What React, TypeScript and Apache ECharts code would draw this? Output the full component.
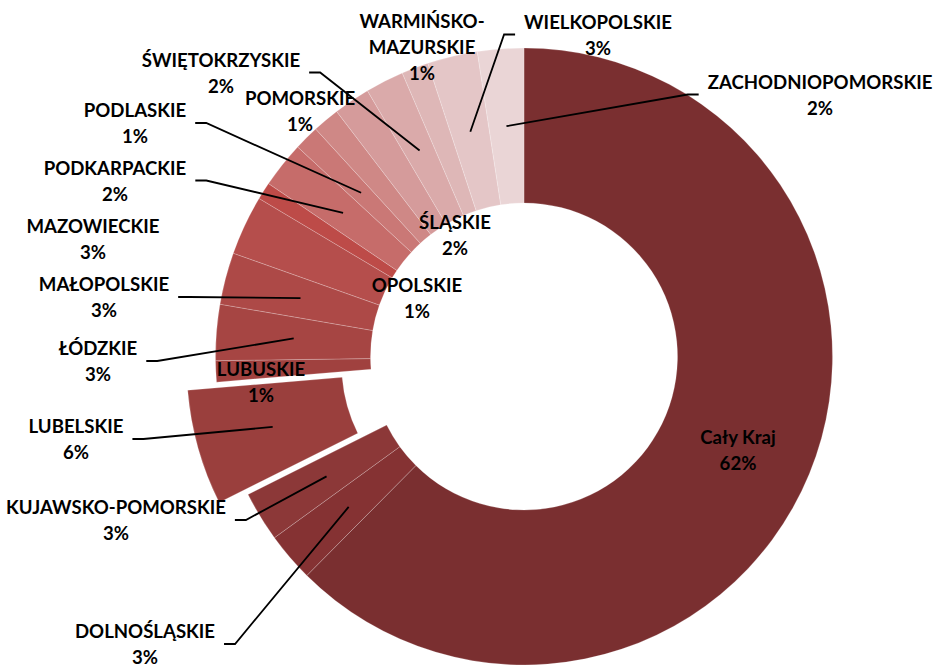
import React, { useEffect, useRef } from 'react';
import * as echarts from 'echarts';

// ---- data ----
const categories = [
  'Cały Kraj',
  'DOLNOŚLĄSKIE',
  'KUJAWSKO-POMORSKIE',
  'LUBELSKIE',
  'LUBUSKIE',
  'ŁÓDZKIE',
  'MAŁOPOLSKIE',
  'MAZOWIECKIE',
  'OPOLSKIE',
  'PODKARPACKIE',
  'PODLASKIE',
  'POMORSKIE',
  'ŚLĄSKIE',
  'ŚWIĘTOKRZYSKIE',
  'WARMIŃSKO-MAZURSKIE',
  'WIELKOPOLSKIE',
  'ZACHODNIOPOMORSKIE',
];
const shares = [61.9, 2.55, 2.6, 6.0, 1.1, 2.9, 2.7, 3.1, 0.9, 2.4, 1.3, 1.4, 1.9, 2.0, 1.4, 2.6, 2.4];
const explodedSlices = ['LUBELSKIE'];

// ---- styling ----
const sliceColors = [
  '#7A2F30', '#853233', '#8C3838', '#9A3F3D', '#A0413F', '#A64543', '#AD4947', '#B54E4C',
  '#BD4B48', '#C66C6A', '#CA7876', '#CF8886', '#D59B9B', '#DAAAAA', '#DEB7B7', '#E4C6C7', '#EAD5D6',
];
const CX = 524;
const CY = 356.5;
const R0 = 153.5;
const R1 = 308.5;
const OFFSET = 30;
const FONT = 'Lato';
const FONT_SIZE = 18.6;
const LINE_H = 26;

// label anchor (centre of text block) and which side the leader line sits on
type LP = { x: number; y: number; line?: 'toRight' | 'toLeft' };
const labelPlace: Record<string, LP> = {
  'Cały Kraj': { x: 738, y: 450 },
  'DOLNOŚLĄSKIE': { x: 145, y: 644, line: 'toRight' },
  'KUJAWSKO-POMORSKIE': { x: 116, y: 520, line: 'toRight' },
  'LUBELSKIE': { x: 76, y: 439, line: 'toRight' },
  'LUBUSKIE': { x: 261, y: 382 },
  'ŁÓDZKIE': { x: 98, y: 361, line: 'toRight' },
  'MAŁOPOLSKIE': { x: 104, y: 297, line: 'toRight' },
  'MAZOWIECKIE': { x: 93, y: 239 },
  'OPOLSKIE': { x: 417, y: 298 },
  'PODKARPACKIE': { x: 115, y: 180.5, line: 'toRight' },
  'PODLASKIE': { x: 135, y: 123, line: 'toRight' },
  'POMORSKIE': { x: 300, y: 111 },
  'ŚLĄSKIE': { x: 455, y: 235 },
  'ŚWIĘTOKRZYSKIE': { x: 221, y: 72.5, line: 'toRight' },
  'WARMIŃSKO-MAZURSKIE': { x: 422, y: 47 },
  'WIELKOPOLSKIE': { x: 598, y: 34.5, line: 'toLeft' },
  'ZACHODNIOPOMORSKIE': { x: 820, y: 94.5, line: 'toLeft' },
};

function measure(text: string): number {
  const c = document.createElement('canvas');
  const ctx = c.getContext('2d');
  if (!ctx) return text.length * FONT_SIZE * 0.6;
  ctx.font = `bold ${FONT_SIZE}px ${FONT}`;
  return Math.max(...text.split('\n').map((t) => ctx.measureText(t).width));
}

export default function App() {
  const ref = useRef<HTMLDivElement>(null);

  useEffect(() => {
    if (!ref.current) return;
    const chart = echarts.init(ref.current, undefined, { renderer: 'svg' });

    const total = shares.reduce((a, b) => a + b, 0);
    const cum: number[] = [];
    shares.reduce((acc, v, i) => {
      cum[i] = acc;
      return acc + v;
    }, 0);

    const data = categories.map((name, i) => ({
      name,
      value: shares[i],
      selected: explodedSlices.includes(name),
      itemStyle: { color: sliceColors[i] },
    }));

    const graphics: any[] = [];
    categories.forEach((name, i) => {
      const lp = labelPlace[name];
      const nm = name === 'WARMIŃSKO-MAZURSKIE' ? 'WARMIŃSKO-\nMAZURSKIE' : name;
      const text = `${nm}\n${Math.round((shares[i] / total) * 100)}%`;
      graphics.push({
        type: 'text',
        z: 110,
        x: lp.x,
        y: lp.y,
        style: {
          text,
          fill: '#000',
          font: `bold ${FONT_SIZE}px ${FONT}`,
          fontFamily: FONT,
          fontWeight: 'bold',
          fontSize: FONT_SIZE,
          lineHeight: LINE_H,
          align: 'center',
          verticalAlign: 'middle',
        },
      });
      if (lp.line) {
        const w = measure(text);
        const theta = ((cum[i] + shares[i] / 2) / total) * Math.PI * 2;
        const r = (R0 + R1) / 2 + (explodedSlices.includes(name) ? OFFSET : 0);
        const px = CX + r * Math.sin(theta);
        const py = CY - r * Math.cos(theta);
        const dir = lp.line === 'toRight' ? 1 : -1;
        const e1 = lp.x + dir * (w / 2 + 9);
        const e2 = lp.x + dir * (w / 2 + 20);
        graphics.push({
          type: 'polyline',
          z: 100,
          shape: { points: [[px, py], [e2, lp.y], [e1, lp.y]] },
          style: { stroke: '#000', lineWidth: 1.8, fill: null },
        });
      }
    });

    chart.setOption({
      animation: false,
      backgroundColor: '#ffffff',
      series: [
        {
          type: 'pie',
          center: [CX, CY],
          radius: [R0, R1],
          startAngle: 90,
          clockwise: true,
          selectedMode: 'multiple',
          selectedOffset: OFFSET,
          avoidLabelOverlap: false,
          emphasis: { disabled: true },
          itemStyle: { borderColor: 'rgba(255,255,255,0.35)', borderWidth: 0.6 },
          label: { show: false },
          labelLine: { show: false },
          data,
        },
      ],
      graphic: graphics,
    });

    return () => chart.dispose();
  }, []);

  return (
    <div
      ref={ref}
      style={{ position: 'fixed', left: 0, top: 0, width: 933, height: 668, background: '#fff' }}
    />
  );
}
